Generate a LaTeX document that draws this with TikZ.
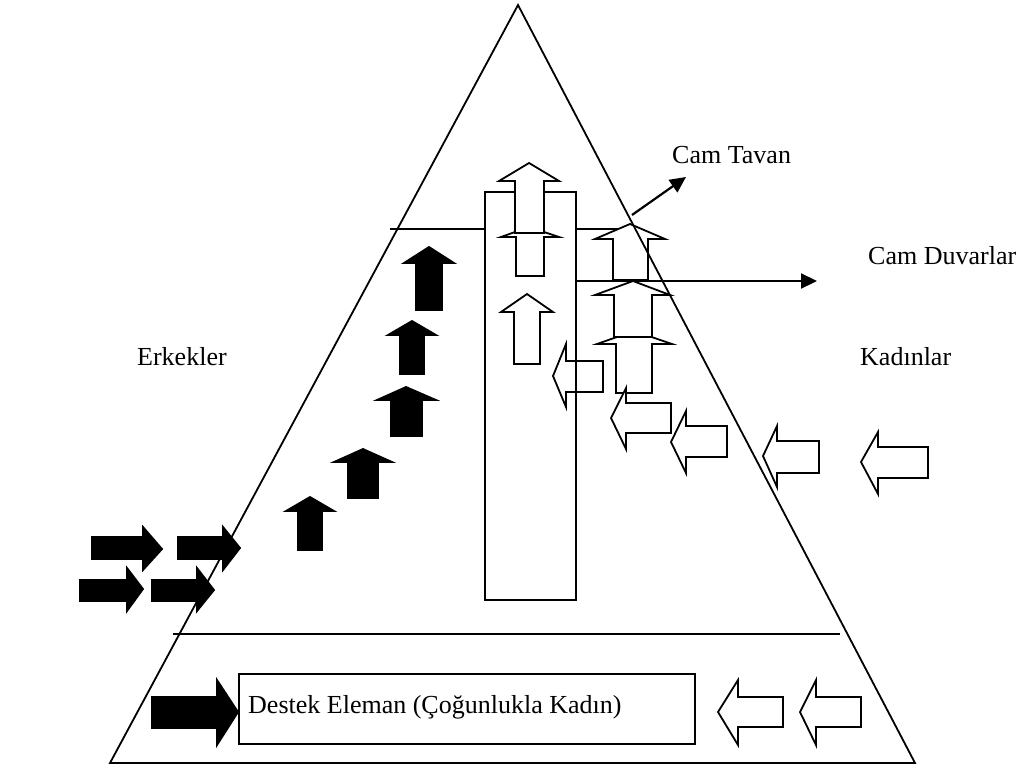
\documentclass[tikz,border=0pt]{standalone}
\usepackage{fontspec}
\setmainfont{Liberation Serif}
\usetikzlibrary{arrows.meta}
\tikzset{
  ln/.style={line width=1.8pt, line join=miter},
  wblk/.style={ln, fill=white, draw=black},
  bblk/.style={ln, fill=black, draw=black},
  lbl/.style={anchor=base west, inner sep=0pt, font=\fontsize{26}{29}\selectfont},
  ptr/.style={line width=2.2pt, -{Triangle[length=16pt,width=15pt]}}
}
% up arrow: tipx tipy headbase headL headR shaftL shaftR bottom
\newcommand\UpArr[9]{\path[#1] (#7,#9) -- (#7,#4) -- (#5,#4) -- (#2,#3) -- (#6,#4) -- (#8,#4) -- (#8,#9) -- cycle;}
% left arrow: tipx tipy headbase headT headB shaftT shaftB right
\newcommand\LeftArr[9]{\path[#1] (#9,#7) -- (#4,#7) -- (#4,#5) -- (#2,#3) -- (#4,#6) -- (#4,#8) -- (#9,#8) -- cycle;}
% right arrow: tipx tipy headbase headT headB shaftT shaftB tail
\newcommand\RightArr[9]{\path[#1] (#9,#7) -- (#4,#7) -- (#4,#5) -- (#2,#3) -- (#4,#6) -- (#4,#8) -- (#9,#8) -- cycle;}
\begin{document}
\begin{tikzpicture}[x=1pt,y=-1pt]
\useasboundingbox (0,0) rectangle (1025,771);
\fill[white] (0,0) rectangle (1025,771);
% horizontal lines
\draw[ln] (390,229) -- (485,229);
\draw[ln] (576,229) -- (635,229);
\draw[ln] (173,634) -- (840,634);
% black up arrows
\UpArr{bblk}{429}{247}{263}{404}{454}{416}{442}{310}
\UpArr{bblk}{412}{321}{335}{388}{436}{400}{424}{374}
\UpArr{bblk}{406}{387}{400}{377}{436}{391}{422}{436}
\UpArr{bblk}{363}{449}{462}{334}{392}{348}{378}{498}
\UpArr{bblk}{310}{497}{511}{286}{334}{298}{322}{550}
% black right arrows
\RightArr{bblk}{162}{549}{143}{527}{570}{537}{559}{92}
\RightArr{bblk}{240}{548}{223}{527}{570}{537}{559}{178}
\RightArr{bblk}{143}{589}{127}{568}{611}{580}{601}{80}
\RightArr{bblk}{214}{590}{197}{568}{611}{580}{601}{152}
\RightArr{bblk}{238}{712}{217}{680}{745}{697}{728}{152}
% white arrows, column
\UpArr{wblk}{529}{227}{237}{501}{559}{516}{544}{276}
\UpArr{wblk}{527}{294}{312}{501}{553}{514}{540}{364}
% white arrows right side
\UpArr{wblk}{634}{331}{344}{597}{672}{616}{652}{393}
\UpArr{wblk}{633}{281}{295}{595}{670}{614}{652}{337}
\UpArr{wblk}{630}{224}{239}{595}{665}{613}{648}{280}
\LeftArr{wblk}{553}{376}{566}{344}{407}{361}{392}{603}
\LeftArr{wblk}{611}{418}{626}{388}{449}{403}{433}{671}
\LeftArr{wblk}{671}{442}{686}{411}{473}{426}{457}{727}
\LeftArr{wblk}{763}{456}{777}{426}{487}{441}{473}{819}
\LeftArr{wblk}{861}{462}{878}{432}{494}{447}{478}{928}
\LeftArr{wblk}{718}{712}{738}{680}{745}{697}{727}{783}
\LeftArr{wblk}{800}{712}{816}{680}{745}{697}{727}{861}
% triangle
\draw[ln] (518,5) -- (915,763) -- (110,763) -- cycle;
% column
\draw[ln] (485,192) rectangle (576,600);
\UpArr{wblk}{529}{163}{181}{499}{559}{515}{544}{233}
% bottom box
\node[ln, draw, fill=white, minimum width=456pt, minimum height=70pt, inner sep=0pt, anchor=north west] (box) at (238,673) {};
\node[lbl] (destek) at (248,713) {Destek Eleman (Çoğunlukla Kadın)};
% pointers
\coordinate (tavS) at (632,215);
\coordinate (tavE) at (686,177);
\coordinate (duvS) at (576,281);
\coordinate (duvE) at (817,281);
\draw[ptr] (tavS) -- (tavE);
\draw[ptr] (duvS) -- (duvE);
% labels
\node[lbl] (tavan) at (672,163) {Cam Tavan};
\node[lbl] (duvar) at (868,264) {Cam Duvarlar};
\node[lbl] (erk) at (137,365) {Erkekler};
\node[lbl] (kad) at (860,365) {Kadınlar};
\end{tikzpicture}
\end{document}
